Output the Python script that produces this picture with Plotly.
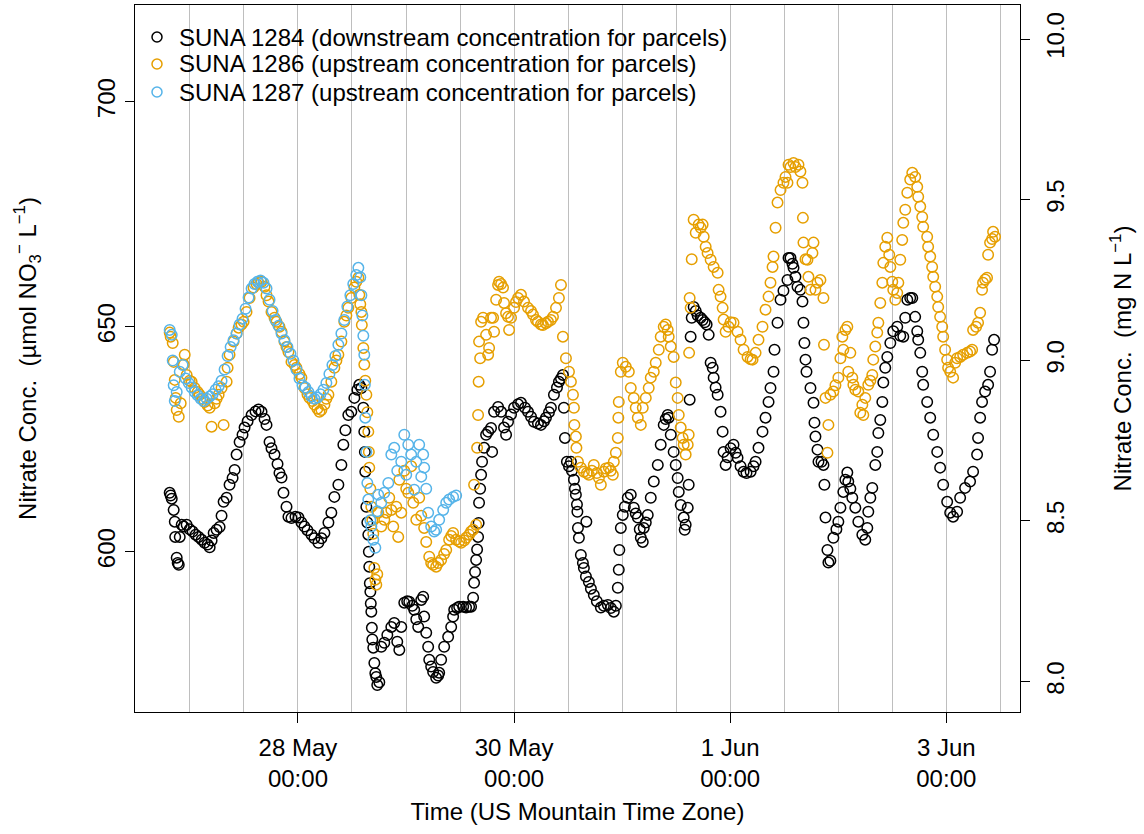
import numpy as np
import pandas as pd
import plotly.graph_objects as go

# Sample times as decimal day-of-May (32 = 1 Jun, 34 = 3 Jun) and nitrate
# concentrations in umol NO3- per litre for each SUNA sensor.
t_1284 = [
    26.813, 26.822, 26.832, 26.850, 26.860, 26.864, 26.878, 26.887, 26.897, 26.906,
    26.924, 26.943, 26.970, 26.998, 27.025, 27.053, 27.081, 27.109, 27.136, 27.164,
    27.183, 27.201, 27.220, 27.247, 27.275, 27.293, 27.312, 27.340, 27.367, 27.395,
    27.414, 27.432, 27.460, 27.487, 27.506, 27.534, 27.571, 27.607, 27.635, 27.663,
    27.691, 27.709, 27.737, 27.755, 27.783, 27.811, 27.829, 27.848, 27.866, 27.894,
    27.912, 27.940, 27.977, 28.005, 28.032, 28.060, 28.088, 28.125, 28.152, 28.189,
    28.217, 28.245, 28.282, 28.309, 28.337, 28.374, 28.402, 28.420, 28.439, 28.466,
    28.494, 28.522, 28.550, 28.568, 28.587, 28.605, 28.614, 28.619, 28.623, 28.633,
    28.642, 28.651, 28.656, 28.660, 28.665, 28.670, 28.674, 28.679, 28.684, 28.688,
    28.697, 28.707, 28.716, 28.725, 28.734, 28.753, 28.771, 28.799, 28.827, 28.864,
    28.891, 28.919, 28.938, 28.956, 28.984, 29.011, 29.030, 29.058, 29.076, 29.095,
    29.113, 29.141, 29.159, 29.168, 29.187, 29.205, 29.215, 29.233, 29.251, 29.279,
    29.298, 29.307, 29.325, 29.353, 29.390, 29.418, 29.436, 29.446, 29.473, 29.492,
    29.529, 29.556, 29.584, 29.602, 29.621, 29.630, 29.639, 29.649, 29.658, 29.667,
    29.672, 29.676, 29.686, 29.695, 29.704, 29.723, 29.741, 29.760, 29.787, 29.797,
    29.815, 29.852, 29.880, 29.907, 29.926, 29.944, 29.972, 30.000, 30.037, 30.064,
    30.101, 30.129, 30.157, 30.184, 30.221, 30.249, 30.277, 30.295, 30.323, 30.341,
    30.369, 30.397, 30.415, 30.434, 30.452, 30.461, 30.471, 30.489, 30.508, 30.526,
    30.535, 30.554, 30.563, 30.572, 30.582, 30.586, 30.591, 30.600, 30.618, 30.637,
    30.646, 30.665, 30.669, 30.692, 30.711, 30.738, 30.766, 30.803, 30.831, 30.868,
    30.895, 30.923, 30.942, 30.960, 30.969, 30.974, 30.988, 31.006, 31.025, 31.052,
    31.080, 31.108, 31.126, 31.145, 31.163, 31.173, 31.191, 31.200, 31.219, 31.237,
    31.265, 31.293, 31.330, 31.357, 31.385, 31.403, 31.422, 31.431, 31.450, 31.477,
    31.496, 31.514, 31.524, 31.542, 31.570, 31.579, 31.588, 31.607, 31.616, 31.625,
    31.634, 31.644, 31.662, 31.681, 31.699, 31.727, 31.745, 31.764, 31.782, 31.801,
    31.819, 31.838, 31.847, 31.865, 31.884, 31.911, 31.930, 31.939, 31.958, 31.976,
    32.004, 32.031, 32.050, 32.068, 32.096, 32.124, 32.151, 32.189, 32.216, 32.235,
    32.262, 32.299, 32.327, 32.355, 32.373, 32.401, 32.410, 32.438, 32.466, 32.493,
    32.530, 32.540, 32.558, 32.576, 32.586, 32.604, 32.623, 32.650, 32.669, 32.678,
    32.687, 32.697, 32.706, 32.743, 32.771, 32.780, 32.789, 32.808, 32.817, 32.845,
    32.863, 32.872, 32.882, 32.900, 32.909, 32.927, 32.955, 32.983, 33.001, 33.020,
    33.047, 33.066, 33.084, 33.093, 33.112, 33.130, 33.158, 33.186, 33.223, 33.250,
    33.269, 33.278, 33.297, 33.315, 33.343, 33.361, 33.371, 33.389, 33.408, 33.417,
    33.435, 33.454, 33.482, 33.509, 33.546, 33.574, 33.602, 33.620, 33.639, 33.666,
    33.685, 33.712, 33.731, 33.740, 33.759, 33.777, 33.786, 33.823, 33.851, 33.879,
    33.916, 33.943, 33.971, 34.008, 34.036, 34.063, 34.100, 34.128, 34.174, 34.220,
    34.248, 34.285, 34.294, 34.313, 34.331, 34.359, 34.387, 34.405, 34.424, 34.442,
]
c_1284 = [
    613.1, 612.5, 611.8, 609.3, 606.7, 603.3, 598.7, 597.5, 597.1, 603.3,
    606.0, 605.6, 606.0, 605.0, 604.5, 603.8, 603.3, 602.7, 602.0, 601.6,
    601.0, 602.5, 604.2, 604.9, 605.5, 608.0, 611.1, 612.0, 614.9, 616.4,
    618.2, 621.6, 624.4, 626.0, 627.6, 629.0, 630.4, 631.2, 631.6, 631.1,
    629.5, 628.2, 624.4, 623.0, 621.6, 619.5, 617.5, 616.5, 613.1, 610.0,
    607.8, 607.5, 607.8, 607.6, 606.5, 605.6, 604.8, 603.8, 603.0, 602.0,
    603.0, 604.2, 606.5, 608.7, 612.2, 614.9, 619.3, 623.8, 627.0, 630.4,
    631.1, 634.2, 636.0, 637.1, 636.4, 632.0, 626.7, 622.2, 617.8, 610.0,
    606.5, 603.8, 600.0, 596.7, 593.0, 591.1, 588.5, 586.7, 583.1, 580.5,
    578.7, 575.3, 573.0, 572.2, 570.4, 571.0, 578.9, 579.8, 581.5, 583.3,
    584.2, 580.0, 578.2, 583.3, 588.7, 589.0, 588.9, 588.0, 587.1, 585.0,
    583.3, 589.3, 590.0, 585.6, 582.0, 578.9, 576.0, 574.5, 573.3, 572.0,
    572.5, 573.1, 576.0, 578.9, 581.1, 583.3, 585.6, 587.1, 587.5, 587.8,
    587.8, 587.6, 587.8, 587.8, 589.8, 593.1, 595.5, 598.2, 600.5, 603.3,
    606.4, 610.9, 614.0, 617.1, 620.0, 623.1, 626.0, 626.7, 627.5, 622.2,
    631.1, 632.2, 631.1, 627.6, 626.0, 628.9, 630.5, 632.0, 632.8, 633.1,
    632.0, 631.1, 630.0, 628.9, 628.5, 628.2, 629.0, 629.8, 631.0, 632.0,
    634.9, 636.5, 637.8, 638.5, 639.3, 632.0, 625.3, 620.0, 619.0, 620.0,
    618.0, 616.0, 614.0, 612.7, 610.5, 608.9, 605.3, 603.1, 599.3, 597.5,
    596.4, 594.5, 606.7, 593.3, 591.8, 590.4, 589.0, 587.6, 588.0, 588.2,
    587.5, 586.7, 588.0, 592.0, 596.0, 600.4, 605.3, 608.2, 610.0, 612.0,
    612.7, 609.8, 608.5, 607.6, 605.0, 603.1, 602.2, 605.3, 606.5, 608.2,
    612.0, 615.6, 619.3, 623.8, 628.2, 629.5, 630.4, 629.8, 626.0, 622.2,
    619.3, 616.4, 613.3, 610.4, 607.6, 604.9, 606.0, 609.8, 614.9, 633.8,
    647.8, 652.0, 654.4, 653.5, 652.5, 652.0, 651.5, 651.0, 650.5, 648.2,
    642.0, 640.9, 638.7, 636.5, 634.9, 631.1, 626.7, 622.2, 619.3, 621.0,
    623.0, 623.8, 622.0, 620.9, 619.0, 617.8, 617.5, 617.8, 619.0, 620.0,
    623.1, 626.7, 629.8, 633.3, 636.4, 640.0, 644.9, 650.9, 656.0, 658.0,
    660.4, 665.3, 665.3, 664.0, 663.1, 661.1, 658.9, 658.2, 655.6, 650.9,
    646.4, 642.7, 640.0, 636.4, 633.1, 628.7, 625.6, 622.7, 620.0, 620.0,
    619.3, 614.9, 607.6, 600.4, 597.6, 598.0, 603.1, 605.0, 606.7, 609.8,
    613.3, 616.0, 617.6, 615.6, 614.0, 612.0, 609.8, 606.7, 603.8, 602.7,
    605.3, 608.9, 612.0, 614.2, 619.3, 622.2, 626.4, 629.3, 633.3, 637.6,
    640.9, 643.3, 646.4, 649.0, 650.0, 648.0, 647.8, 652.0, 656.0, 656.4,
    656.4, 652.2, 649.0, 647.1, 644.2, 640.0, 637.1, 633.3, 629.8, 626.0,
    622.2, 618.7, 614.9, 611.1, 608.7, 607.8, 608.9, 612.0, 614.2, 615.6,
    617.8, 621.6, 625.3, 629.8, 633.3, 635.6, 637.1, 640.0, 644.9, 647.1,
]

t_1286 = [
    26.813, 26.822, 26.841, 26.850, 26.860, 26.869, 26.878, 26.897, 26.915, 26.943,
    26.952, 26.970, 26.998, 27.016, 27.044, 27.072, 27.090, 27.118, 27.136, 27.164,
    27.183, 27.201, 27.229, 27.247, 27.266, 27.293, 27.312, 27.340, 27.349, 27.367,
    27.404, 27.432, 27.451, 27.478, 27.497, 27.524, 27.552, 27.589, 27.617, 27.635,
    27.663, 27.691, 27.709, 27.728, 27.755, 27.783, 27.801, 27.829, 27.848, 27.875,
    27.894, 27.912, 27.940, 27.968, 27.986, 28.014, 28.032, 28.060, 28.088, 28.106,
    28.134, 28.152, 28.180, 28.199, 28.217, 28.245, 28.263, 28.282, 28.309, 28.337,
    28.356, 28.374, 28.402, 28.429, 28.448, 28.466, 28.494, 28.522, 28.540, 28.559,
    28.568, 28.577, 28.587, 28.591, 28.605, 28.614, 28.623, 28.633, 28.642, 28.651,
    28.656, 28.660, 28.670, 28.679, 28.688, 28.697, 28.707, 28.716, 28.725, 28.734,
    28.743, 28.771, 28.799, 28.818, 28.845, 28.864, 28.882, 28.910, 28.928, 28.938,
    28.956, 28.984, 29.002, 29.021, 29.048, 29.067, 29.095, 29.122, 29.141, 29.168,
    29.187, 29.215, 29.233, 29.251, 29.279, 29.298, 29.325, 29.353, 29.372, 29.399,
    29.418, 29.436, 29.464, 29.492, 29.510, 29.538, 29.556, 29.584, 29.602, 29.621,
    29.630, 29.649, 29.658, 29.667, 29.672, 29.676, 29.686, 29.695, 29.713, 29.741,
    29.760, 29.769, 29.787, 29.806, 29.815, 29.834, 29.852, 29.861, 29.880, 29.898,
    29.907, 29.926, 29.944, 29.954, 29.972, 30.000, 30.018, 30.037, 30.064, 30.092,
    30.129, 30.157, 30.175, 30.203, 30.221, 30.249, 30.267, 30.295, 30.314, 30.341,
    30.360, 30.388, 30.415, 30.434, 30.452, 30.480, 30.508, 30.526, 30.545, 30.554,
    30.558, 30.572, 30.577, 30.591, 30.618, 30.646, 30.674, 30.692, 30.720, 30.738,
    30.766, 30.785, 30.803, 30.831, 30.849, 30.877, 30.895, 30.914, 30.923, 30.942,
    30.960, 30.965, 30.969, 30.988, 31.006, 31.034, 31.062, 31.080, 31.108, 31.126,
    31.145, 31.173, 31.191, 31.219, 31.246, 31.265, 31.293, 31.311, 31.339, 31.357,
    31.385, 31.403, 31.422, 31.431, 31.450, 31.477, 31.496, 31.514, 31.524, 31.542,
    31.560, 31.570, 31.588, 31.607, 31.616, 31.620, 31.625, 31.634, 31.644, 31.662,
    31.681, 31.708, 31.727, 31.745, 31.755, 31.773, 31.791, 31.819, 31.847, 31.884,
    31.893, 31.911, 31.930, 31.939, 31.958, 31.985, 32.004, 32.031, 32.068, 32.096,
    32.124, 32.161, 32.189, 32.207, 32.235, 32.262, 32.299, 32.327, 32.355, 32.373,
    32.392, 32.401, 32.420, 32.438, 32.466, 32.493, 32.512, 32.530, 32.540, 32.558,
    32.586, 32.604, 32.632, 32.650, 32.669, 32.673, 32.678, 32.697, 32.715, 32.724,
    32.743, 32.761, 32.771, 32.789, 32.808, 32.835, 32.863, 32.868, 32.882, 32.900,
    32.909, 32.927, 32.955, 32.974, 33.001, 33.020, 33.038, 33.047, 33.066, 33.084,
    33.093, 33.112, 33.130, 33.140, 33.158, 33.186, 33.204, 33.223, 33.232, 33.250,
    33.278, 33.297, 33.315, 33.324, 33.343, 33.361, 33.371, 33.389, 33.408, 33.417,
    33.435, 33.454, 33.472, 33.482, 33.500, 33.509, 33.528, 33.546, 33.556, 33.574,
    33.592, 33.602, 33.620, 33.639, 33.666, 33.685, 33.712, 33.731, 33.740, 33.759,
    33.777, 33.786, 33.823, 33.832, 33.851, 33.869, 33.879, 33.897, 33.916, 33.925,
    33.943, 33.962, 33.971, 33.989, 34.008, 34.017, 34.036, 34.063, 34.082, 34.100,
    34.128, 34.156, 34.193, 34.220, 34.239, 34.248, 34.276, 34.294, 34.313, 34.331,
    34.340, 34.359, 34.377, 34.387, 34.405, 34.424, 34.433, 34.451,
]
c_1286 = [
    648.7, 647.8, 646.4, 642.2, 638.2, 634.2, 631.5, 630.0, 633.0, 641.6,
    643.8, 639.3, 638.0, 637.8, 636.4, 635.5, 634.9, 634.0, 633.3, 632.5,
    632.0, 627.8, 633.0, 634.0, 634.9, 636.4, 628.2, 637.8, 640.9, 643.8,
    646.7, 648.5, 649.8, 650.5, 651.1, 653.3, 656.4, 658.7, 659.5, 659.8,
    660.0, 658.9, 657.0, 655.6, 653.3, 652.0, 651.1, 650.0, 648.9, 646.7,
    645.5, 644.4, 642.2, 641.5, 640.9, 639.5, 638.7, 636.4, 635.0, 634.2,
    633.5, 632.7, 631.8, 631.1, 631.5, 632.7, 634.0, 634.9, 637.8, 640.9,
    642.5, 643.8, 646.7, 651.1, 652.5, 654.2, 656.4, 658.7, 660.0, 660.9,
    657.1, 655.0, 653.3, 650.4, 645.3, 641.6, 638.0, 634.9, 631.0, 626.7,
    622.2, 618.7, 614.0, 610.0, 607.0, 604.0, 596.4, 593.8, 592.7, 595.0,
    608.7, 605.6, 607.1, 608.7, 612.0, 609.3, 605.6, 610.0, 603.3, 616.0,
    608.7, 618.0, 614.0, 613.1, 619.0, 610.9, 607.1, 612.0, 608.0, 605.3,
    602.2, 598.9, 597.5, 597.1, 596.7, 597.5, 598.2, 599.5, 600.4, 602.7,
    603.5, 604.2, 602.7, 602.3, 602.0, 602.5, 603.1, 603.8, 604.5, 604.9,
    614.9, 606.0, 623.1, 630.4, 637.8, 646.7, 643.0, 651.1, 652.0, 648.2,
    643.8, 645.3, 652.0, 652.0, 648.9, 656.0, 659.3, 660.0, 659.5, 658.7,
    655.3, 653.0, 652.2, 649.3, 652.0, 654.2, 655.5, 656.4, 657.1, 655.6,
    654.2, 653.5, 652.7, 651.5, 651.1, 650.5, 650.4, 650.8, 651.1, 651.5,
    652.2, 654.2, 656.4, 659.3, 647.8, 643.0, 640.0, 637.8, 634.9, 632.0,
    628.2, 625.6, 623.1, 620.0, 618.7, 617.8, 617.5, 617.1, 618.0, 619.3,
    617.5, 616.4, 614.9, 617.8, 618.5, 618.7, 618.0, 617.1, 620.0, 622.0,
    625.3, 629.8, 633.3, 640.0, 642.0, 641.1, 640.0, 636.4, 634.2, 632.0,
    629.8, 628.2, 632.0, 634.2, 636.4, 638.7, 640.0, 642.0, 644.9, 647.8,
    650.0, 650.5, 649.3, 647.8, 645.6, 643.3, 637.6, 634.2, 630.4, 627.6,
    625.3, 623.8, 621.6, 623.8, 626.0, 644.2, 656.4, 654.2, 665.0, 673.8,
    670.9, 672.7, 672.0, 672.7, 670.0, 667.8, 666.4, 664.9, 663.3, 662.0,
    658.2, 656.7, 654.2, 651.6, 648.9, 650.0, 651.0, 650.9, 648.9, 647.1,
    644.9, 643.3, 642.8, 642.7, 644.2, 647.1, 650.0, 653.8, 656.7, 659.8,
    663.3, 665.6, 672.0, 677.6, 680.4, 682.0, 683.3, 682.0, 686.0, 685.5,
    686.4, 685.5, 686.0, 684.5, 682.0, 674.2, 668.7, 665.0, 664.9, 661.1,
    658.2, 666.4, 668.7, 658.2, 659.8, 660.4, 656.4, 646.0, 634.2, 622.0,
    628.2, 634.9, 635.6, 637.0, 638.7, 643.0, 647.8, 644.9, 649.3, 650.0,
    640.0, 644.2, 638.7, 637.1, 636.0, 635.6, 630.9, 632.7, 630.4, 634.2,
    637.1, 638.0, 639.3, 642.7, 645.6, 648.7, 650.9, 655.3, 659.8, 664.2,
    667.8, 669.8, 666.0, 663.3, 660.0, 658.2, 656.0, 657.5, 659.8, 664.9,
    669.3, 673.1, 676.0, 679.8, 682.7, 684.2, 683.3, 681.1, 678.9, 676.7,
    674.4, 672.2, 670.0, 667.8, 665.6, 663.3, 661.1, 658.9, 656.7, 654.4,
    652.2, 650.0, 647.8, 644.9, 642.7, 640.9, 640.0, 638.7, 642.0, 643.0,
    643.3, 643.8, 644.2, 644.5, 644.9, 649.3, 650.0, 650.9, 653.1, 658.2,
    659.8, 660.5, 660.9, 666.0, 668.7, 669.5, 671.1, 670.0,
]

t_1287 = [
    26.813, 26.832, 26.841, 26.850, 26.860, 26.878, 26.906, 26.933, 26.961, 26.989,
    27.016, 27.044, 27.072, 27.100, 27.127, 27.155, 27.183, 27.210, 27.238, 27.266,
    27.293, 27.321, 27.349, 27.377, 27.404, 27.432, 27.460, 27.487, 27.515, 27.543,
    27.571, 27.598, 27.626, 27.654, 27.681, 27.709, 27.737, 27.765, 27.792, 27.820,
    27.848, 27.875, 27.903, 27.931, 27.958, 27.986, 28.014, 28.042, 28.069, 28.097,
    28.125, 28.152, 28.180, 28.208, 28.236, 28.263, 28.291, 28.319, 28.346, 28.374,
    28.402, 28.429, 28.457, 28.485, 28.512, 28.540, 28.559, 28.577, 28.587, 28.596,
    28.605, 28.614, 28.619, 28.623, 28.633, 28.642, 28.651, 28.670, 28.679, 28.697,
    28.716, 28.734, 28.743, 28.771, 28.799, 28.836, 28.864, 28.891, 28.919, 28.956,
    28.984, 29.002, 29.021, 29.048, 29.076, 29.095, 29.122, 29.141, 29.159, 29.168,
    29.187, 29.205, 29.233, 29.261, 29.279, 29.307, 29.344, 29.372, 29.399, 29.436,
    29.464,
]
c_1287 = [
    649.3, 648.2, 642.5, 637.0, 633.5, 635.5, 640.0, 641.5, 638.5, 637.5,
    636.5, 635.5, 634.8, 634.0, 633.5, 634.0, 634.5, 635.0, 636.0, 636.8,
    638.0, 640.5, 643.5, 645.5, 647.0, 648.5, 650.5, 651.8, 654.0, 656.5,
    658.5, 659.5, 660.0, 660.3, 659.8, 658.5, 656.0, 653.5, 651.5, 650.2,
    648.5, 647.0, 645.5, 644.0, 642.5, 640.5, 638.5, 637.0, 636.5, 635.5,
    634.5, 634.0, 634.3, 635.0, 636.0, 637.5, 639.5, 641.5, 643.5, 646.0,
    648.5, 651.5, 654.5, 657.0, 659.5, 661.5, 663.1, 661.0, 657.0, 652.5,
    648.0, 643.8, 637.1, 629.8, 622.2, 615.3, 611.6, 607.0, 605.6, 602.7,
    600.9, 609.0, 612.7, 610.9, 613.1, 615.3, 621.6, 623.1, 618.0, 620.0,
    626.0, 617.1, 623.8, 621.6, 613.8, 620.0, 623.8, 616.7, 621.6, 618.7,
    614.0, 608.7, 605.6, 604.5, 604.9, 607.1, 609.3, 610.9, 611.6, 612.2,
    612.5,
]

series_names = [
    "SUNA 1284 (downstream concentration for parcels)",
    "SUNA 1286 (upstream concentration for parcels)",
    "SUNA 1287 (upstream concentration for parcels)",
]
series_colors = ["#000000", "#E69F00", "#56B4E9"]

# Tick positions (day-of-May) and their labels
x_tick_days = [28, 30, 32, 34]
x_tick_text = ["28 May<br>00:00", "30 May<br>00:00", "1 Jun<br>00:00", "3 Jun<br>00:00"]
y_ticks_umol = [600, 650, 700]
y_ticks_mg = [8.0, 8.5, 9.0, 9.5, 10.0]

MG_N_PER_UMOL = 14.0067 / 1000.0   # molar mass of N, g/mol -> mg per umol
Y_RANGE = [564.4, 721.5]
X_RANGE_DAYS = [26.492, 34.682]

FONT = "Liberation Sans, Arial, Helvetica, sans-serif"
FS = 24
GRID = "#bebebe"
W, H = 1144, 834
M = dict(l=135, r=124, t=5, b=122)
PLOT_W = W - M["l"] - M["r"]
PLOT_H = H - M["t"] - M["b"]


def to_time(days):
    days = np.asarray(days, dtype=float)
    return pd.Timestamp("2015-05-01") + pd.to_timedelta(days - 1.0, unit="D")


fig = go.Figure()
for name, t, c, col in zip(series_names, [t_1284, t_1286, t_1287],
                           [c_1284, c_1286, c_1287], series_colors):
    assert len(t) == len(c), name
    fig.add_trace(go.Scatter(
        x=to_time(t), y=c, mode="markers", name=name, showlegend=False,
        marker=dict(symbol="circle-open", size=10.5, color=col,
                    line=dict(width=1.5, color=col)),
    ))

# Secondary axis in mg N / L shares the same scale as the umol axis
fig.add_trace(go.Scatter(x=[None], y=[None], yaxis="y2", showlegend=False,
                         hoverinfo="skip", mode="markers"))

# Legend in the top-left corner: open circle + label per sensor
legend_x_symbol = 22 / PLOT_W
legend_x_text = 42 / PLOT_W
legend_rows = [32, 59, 87]          # pixel offsets from top of the plot area
annotations = []
shapes = []
for row, name, col in zip(legend_rows, series_names, series_colors):
    yc = 1 - row / PLOT_H
    annotations.append(dict(
        x=legend_x_text, y=yc, xref="paper", yref="paper",
        xanchor="left", yanchor="middle", showarrow=False, text=name,
        font=dict(family=FONT, size=FS, color="black"),
    ))
    rx, ry = 5 / PLOT_W, 5 / PLOT_H
    shapes.append(dict(
        type="circle", xref="paper", yref="paper",
        x0=legend_x_symbol - rx, x1=legend_x_symbol + rx,
        y0=yc - ry, y1=yc + ry, line=dict(color=col, width=1.5),
    ))

x_range = [str(v) for v in to_time(X_RANGE_DAYS)]
tick_times = [str(v) for v in to_time(x_tick_days)]

fig.update_layout(
    width=W, height=H,
    margin=M,
    paper_bgcolor="white", plot_bgcolor="white",
    font=dict(family=FONT, size=FS, color="black"),
    showlegend=False,
    annotations=annotations,
    shapes=shapes,
    xaxis=dict(
        type="date", range=x_range,
        tickmode="array", tickvals=tick_times, ticktext=x_tick_text,
        ticks="outside", ticklen=10, tickwidth=1, tickcolor="black",
        ticklabelstandoff=4, tickfont=dict(size=FS),
        showline=True, linecolor="black", linewidth=1, mirror=True,
        showgrid=True, gridcolor=GRID, gridwidth=1.2, zeroline=False,
        minor=dict(tickmode="linear", tick0=str(to_time([27])[0]),
                   dtick=12 * 3600 * 1000, showgrid=True,
                   gridcolor=GRID, gridwidth=1.2, ticks=""),
        tickangle=0,
        title=dict(text="Time (US Mountain Time Zone)", standoff=12,
                   font=dict(size=FS)),
    ),
    yaxis=dict(
        range=Y_RANGE, tickmode="array", tickvals=y_ticks_umol,
        ticks="outside", ticklen=9, tickwidth=1, tickcolor="black",
        tickfont=dict(size=FS),
        showline=True, linecolor="black", linewidth=1, mirror=True,
        showgrid=False, zeroline=False, tickangle=-90,
        title=dict(text="Nitrate Conc.  (\u00b5mol NO<sub>3</sub><sup>\u2212</sup> L<sup>\u22121</sup>)",
                   standoff=50, font=dict(size=FS)),
    ),
    yaxis2=dict(
        overlaying="y", side="right", anchor="x",
        range=[v * MG_N_PER_UMOL for v in Y_RANGE],
        tickmode="array", tickvals=y_ticks_mg,
        ticktext=[f"{v:.1f}" for v in y_ticks_mg],
        ticks="outside", ticklen=9, tickwidth=1, tickcolor="black",
        ticklabelstandoff=5, tickfont=dict(size=FS),
        showline=True, linecolor="black", linewidth=1,
        showgrid=False, zeroline=False, tickangle=-90,
        title=dict(text="Nitrate Conc.  (mg N L<sup>\u22121</sup>)", standoff=46,
                   font=dict(size=FS)),
    ),
)

fig.write_html("out.html")
